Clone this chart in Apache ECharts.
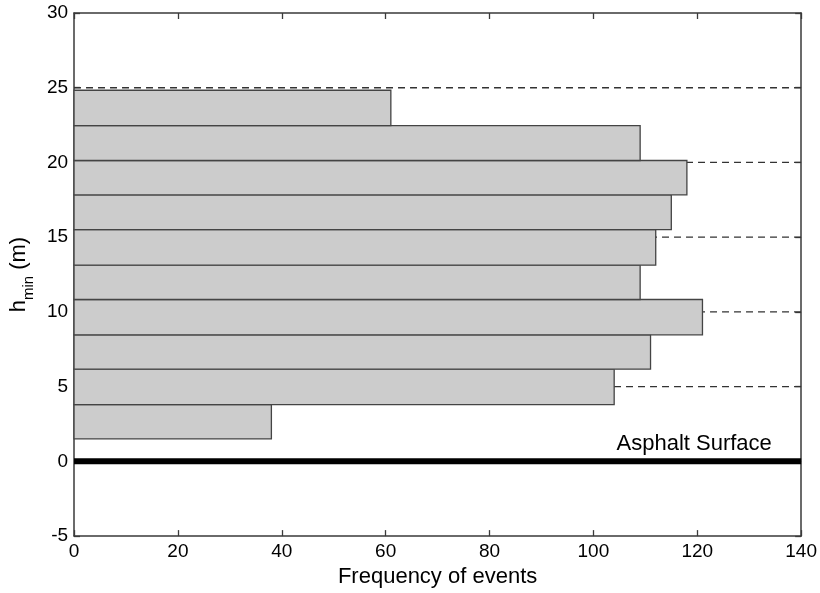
<!DOCTYPE html>
<html>
<head>
<meta charset="utf-8">
<script src="https://cdn.jsdelivr.net/npm/echarts@6/dist/echarts.min.js"></script>
<style>
  html, body { margin: 0; padding: 0; background: #fff; }
  #chart { width: 820px; height: 593px; }
</style>
</head>
<body>
<div id="chart"></div>
<script>
// Histogram of minimum heights: bin edges (m) and event counts per bin
const binEdges = [1.5, 3.8, 6.17, 8.47, 10.83, 13.13, 15.5, 17.83, 20.13, 22.47, 24.83];
const counts = [38, 104, 111, 121, 109, 112, 115, 118, 109, 61];

// Dashed reference heights and the road surface
const refHeights = [5, 10, 15, 20, 25];
const surfaceHeight = 0;
const surfaceLabel = 'Asphalt Surface';
const surfaceLabelPos = [119.4, 1.15];

const xTicks = { min: 0, max: 140, interval: 20 };
const yTicks = { min: -5, max: 30, interval: 5 };

const FONT = 'Liberation Sans, Arial, Helvetica, sans-serif';
const AXIS_COLOR = '#3a3a3a';
const TEXT_COLOR = '#000';

const bins = counts.map((c, i) => [binEdges[i], binEdges[i + 1], c]);

const dashedSeries = refHeights.map(h => ({
  type: 'line',
  data: [[xTicks.min, h], [xTicks.max, h]],
  symbol: 'none',
  silent: true,
  z: 1,
  lineStyle: { color: '#333', width: 1.3, type: [7, 5] }
}));

const chart = echarts.init(document.getElementById('chart'), null, { renderer: 'canvas' });

const axisCommon = {
  axisLine: { show: true, onZero: false, lineStyle: { color: AXIS_COLOR, width: 1.5 } },
  axisTick: { show: true, inside: true, length: 6, lineStyle: { color: AXIS_COLOR, width: 1.3 } },
  splitLine: { show: false }
};

chart.setOption({
  animation: false,
  backgroundColor: '#fff',
  grid: { left: 72, right: 18, top: 13, bottom: 52 },
  xAxis: [
    Object.assign({
      type: 'value', position: 'bottom',
      min: xTicks.min, max: xTicks.max, interval: xTicks.interval,
      name: 'Frequency of events', nameLocation: 'middle', nameGap: 27,
      nameTextStyle: { fontFamily: FONT, fontSize: 22, color: TEXT_COLOR },
      axisLabel: { fontFamily: FONT, fontSize: 19, color: TEXT_COLOR, margin: 6 }
    }, axisCommon),
    Object.assign({
      type: 'value', position: 'top',
      min: xTicks.min, max: xTicks.max, interval: xTicks.interval,
      axisLabel: { show: false }
    }, axisCommon)
  ],
  yAxis: [
    Object.assign({
      type: 'value', position: 'left',
      min: yTicks.min, max: yTicks.max, interval: yTicks.interval,
      name: '{a|h}{b|min}{a| (m)}', nameLocation: 'middle', nameGap: 37, nameRotate: 90,
      nameTextStyle: {
        fontFamily: FONT, color: TEXT_COLOR,
        rich: {
          a: { fontFamily: FONT, fontSize: 22, color: TEXT_COLOR, verticalAlign: 'top', lineHeight: 22 },
          b: { fontFamily: FONT, fontSize: 15, color: TEXT_COLOR, verticalAlign: 'top', lineHeight: 15, padding: [13, 0, 0, 0] }
        }
      },
      axisLabel: { fontFamily: FONT, fontSize: 19, color: TEXT_COLOR, margin: 6 }
    }, axisCommon),
    Object.assign({
      type: 'value', position: 'right',
      min: yTicks.min, max: yTicks.max, interval: yTicks.interval,
      axisLabel: { show: false }
    }, axisCommon)
  ],
  series: [
    ...dashedSeries,
    {
      type: 'custom',
      z: 3,
      data: bins,
      renderItem: function (params, api) {
        const y0 = api.value(0), y1 = api.value(1), v = api.value(2);
        const pBottomLeft = api.coord([0, y0]);
        const pTopRight = api.coord([v, y1]);
        return {
          type: 'rect',
          shape: {
            x: pBottomLeft[0],
            y: pTopRight[1],
            width: pTopRight[0] - pBottomLeft[0],
            height: pBottomLeft[1] - pTopRight[1]
          },
          style: { fill: '#cccccc', stroke: '#444', lineWidth: 1.3 }
        };
      },
      encode: { x: 2, y: [0, 1] }
    },
    {
      type: 'line',
      data: [[xTicks.min, surfaceHeight], [xTicks.max, surfaceHeight]],
      symbol: 'none',
      silent: true,
      z: 4,
      lineStyle: { color: '#000', width: 6 }
    }
  ]
});

// Surface label placed through the grid's coordinate system
const labelPx = chart.convertToPixel({ xAxisIndex: 0, yAxisIndex: 0 }, surfaceLabelPos);
chart.setOption({
  graphic: [{
    type: 'text',
    x: labelPx[0],
    y: labelPx[1],
    z: 10,
    style: {
      text: surfaceLabel,
      fontFamily: FONT,
      fontSize: 22,
      fill: TEXT_COLOR,
      align: 'center',
      verticalAlign: 'middle'
    }
  }]
});
</script>
</body>
</html>
